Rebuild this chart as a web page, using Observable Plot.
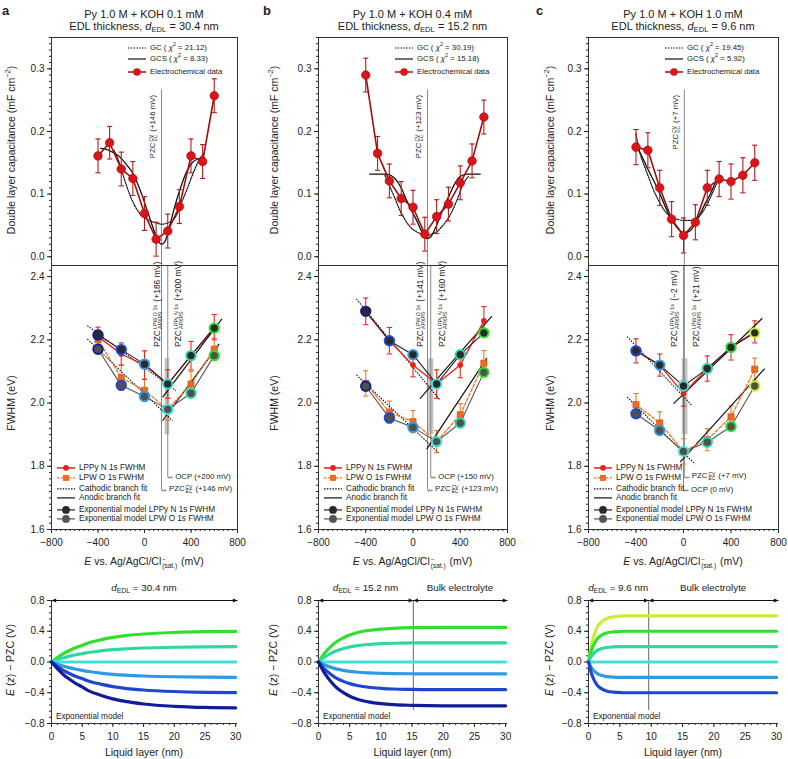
<!DOCTYPE html>
<html><head><meta charset="utf-8">
<script src="https://cdn.jsdelivr.net/npm/d3@7"></script>
<script src="https://cdn.jsdelivr.net/npm/@observablehq/plot@0.6"></script>
<style>
body{margin:0;background:#fff;}
#fig{position:relative;width:788px;height:759px;font-family:"Liberation Sans",Arial,Helvetica,sans-serif;color:#222;overflow:hidden;background:#fff;}
.lbl{position:absolute;white-space:nowrap;line-height:1;}
.ss{display:inline-flex;flex-direction:column;font-size:0.62em;line-height:0.95;vertical-align:0.5em;margin:0 1px;text-align:left;}
sub{font-size:0.7em;vertical-align:-0.3em;line-height:0;}
.leg{position:absolute;white-space:nowrap;line-height:1;display:flex;align-items:center;}
.leg svg{margin-right:4px;}
</style></head><body><div id="fig"></div><script>
// ---------------- DATA ----------------
const letters = ["a", "b", "c"];
const kohConc = ["0.1", "0.4", "1.0"];
const dEDL = [30.4, 15.2, 9.6];
const chiGC = ["21.12", "30.19", "19.45"];
const chiGCS = ["8.33", "15.18", "5.92"];
const pzcCV = [146, 123, 7];
const ocpV = [200, 150, 0];
const pzcO1s = [186, 141, 21];
const pzcN1s = [200, 160, -2];

// capacitance (mF cm-2) vs E (mV)
const capE = [-400, -300, -200, -100, 0, 100, 200, 300, 400, 500, 600];
const capA = [0.161, 0.182, 0.140, 0.125, 0.069, 0.028, 0.041, 0.080, 0.161, 0.152, 0.257];
const capB = [0.290, 0.165, 0.121, 0.093, 0.079, 0.036, 0.064, 0.084, 0.118, 0.153, 0.223];
const capC = [0.175, 0.170, 0.110, 0.060, 0.034, 0.055, 0.110, 0.124, 0.120, 0.130, 0.150];
const capErrA = [0.027, 0.026, 0.027, 0.027, 0.027, 0.027, 0.027, 0.027, 0.027, 0.027, 0.027];
const capErrB = [0.027, 0.027, 0.027, 0.027, 0.027, 0.027, 0.027, 0.027, 0.027, 0.027, 0.027];
const capErrC = [0.028, 0.028, 0.028, 0.028, 0.028, 0.028, 0.028, 0.028, 0.028, 0.028, 0.028];

// GC (dotted) and GCS (solid) fits
const gcA_E = [-262, -220, -175, -118, -45, 41, 100, 148, 200, 243, 280, 315, 360, 401, 445, 488, 516];
const gcA_C = [0.170, 0.152, 0.125, 0.095, 0.070, 0.058, 0.054, 0.052, 0.054, 0.058, 0.068, 0.085, 0.105, 0.125, 0.145, 0.160, 0.165];
const gcsA_E = [-377, -320, -276, -230, -190, -150, -103, -60, -17, 30, 70, 110, 148, 180, 215, 260, 310, 360, 410, 460, 516];
const gcsA_C = [0.173, 0.171, 0.167, 0.162, 0.155, 0.146, 0.134, 0.117, 0.096, 0.070, 0.048, 0.028, 0.020, 0.026, 0.048, 0.080, 0.110, 0.135, 0.150, 0.156, 0.158];
const gcB_E = [-238, -196, -150, -111, -70, -26, 20, 59, 116, 160, 201, 245, 286, 330, 371, 428, 470];
const gcB_C = [0.130, 0.112, 0.092, 0.074, 0.060, 0.048, 0.041, 0.037, 0.034, 0.036, 0.040, 0.048, 0.058, 0.072, 0.090, 0.117, 0.128];
const gcsB_E = [-366, -280, -224, -180, -139, -95, -54, -10, 31, 75, 116, 150, 190, 229, 270, 314, 355, 399, 456, 569];
const gcsB_C = [0.132, 0.132, 0.132, 0.129, 0.122, 0.108, 0.090, 0.073, 0.058, 0.040, 0.029, 0.032, 0.046, 0.064, 0.083, 0.101, 0.117, 0.128, 0.132, 0.132];
const gcC_E = [-400, -364, -330, -294, -260, -224, -182, -140, -98, -56, 0, 50, 87, 130, 170, 205, 240, 270, 296];
const gcC_C = [0.196, 0.164, 0.145, 0.127, 0.110, 0.095, 0.080, 0.069, 0.063, 0.060, 0.058, 0.058, 0.059, 0.064, 0.074, 0.086, 0.100, 0.113, 0.124];
const gcsC_E = [-400, -350, -308, -266, -224, -182, -140, -98, -56, -20, 0, 30, 59, 100, 142, 185, 226, 262, 296];
const gcsC_C = [0.178, 0.160, 0.143, 0.127, 0.111, 0.093, 0.074, 0.058, 0.047, 0.040, 0.038, 0.039, 0.042, 0.053, 0.069, 0.086, 0.100, 0.116, 0.130];

// FWHM (eV) vs E (mV)
const xpsE = [-400, -200, 0, 200, 400, 600];
const nA = [2.21, 2.155, 2.12, 2.06, 2.15, 2.24];
const nErrA = [0.03, 0.035, 0.045, 0.045, 0.045, 0.04];
const oA = [2.20, 2.08, 2.04, 1.98, 2.06, 2.17];
const oErrA = [0.03, 0.04, 0.035, 0.035, 0.04, 0.035];
const expNA = [2.215, 2.169, 2.123, 2.06, 2.15, 2.237];
const expOA = [2.17, 2.056, 2.021, 1.98, 2.031, 2.15];
const nB = [2.29, 2.197, 2.12, 2.06, 2.12, 2.26];
const nErrB = [0.042, 0.042, 0.037, 0.045, 0.04, 0.045];
const oB = [2.062, 1.971, 1.941, 1.878, 1.963, 2.126];
const oErrB = [0.04, 0.035, 0.035, 0.035, 0.035, 0.04];
const expNB = [2.29, 2.197, 2.153, 2.06, 2.153, 2.222];
const expOB = [2.053, 1.953, 1.923, 1.878, 1.937, 2.097];
const nC = [2.165, 2.12, 2.03, 2.109, 2.176, 2.225];
const nErrC = [0.038, 0.035, 0.04, 0.04, 0.04, 0.035];
const oC = [1.995, 1.937, 1.847, 1.884, 1.956, 2.107];
const oErrC = [0.035, 0.035, 0.04, 0.035, 0.035, 0.035];
const expNC = [2.165, 2.12, 2.054, 2.109, 2.176, 2.222];
const expOC = [1.966, 1.913, 1.847, 1.876, 1.926, 2.054];

// branch fits [[E1, FWHM1], [E2, FWHM2]]
const cathN = [[[-492, 2.245], [270, 2.039]], [[-479, 2.329], [229, 2.009]], [[-475, 2.21], [69, 1.993]]];
const cathO = [[[-492, 2.203], [241, 1.944]], [[-479, 2.089], [215, 1.843]], [[-475, 2.019], [97, 1.807]]];
const anodN = [[[155, 2.018], [666, 2.266]], [[59, 2.014], [668, 2.275]], [[-84, 1.998], [664, 2.268]]];
const anodO = [[[155, 1.944], [643, 2.187]], [[116, 1.854], [626, 2.142]], [[-29, 1.813], [684, 2.109]]];

// colours of the exponential-model potentials
const cNavy = "#101d97", cBlue = "#1f46d0", cLBlue = "#2e9ae6", cCyan = "#40e0d9", cAqua = "#2fd8a3", cGreen = "#2fe02f", cYG = "#c9ee32";
const outlineA = [cNavy, cBlue, cLBlue, cCyan, cAqua, cGreen];
const outlineB = [cNavy, cBlue, cLBlue, cCyan, cAqua, cGreen];
const outlineC = [cBlue, cLBlue, cCyan, cAqua, cGreen, cYG];

// E(z) - PZC (V) vs liquid layer (nm)
const zA = [0, 1, 2, 3, 4, 5, 6, 8, 10, 12, 15, 20, 25, 30];
const potA = [
  [0, 0.06, 0.112, 0.152, 0.188, 0.216, 0.248, 0.288, 0.32, 0.342, 0.364, 0.384, 0.394, 0.398],
  [0, 0.03, 0.056, 0.076, 0.094, 0.108, 0.124, 0.144, 0.16, 0.171, 0.182, 0.192, 0.197, 0.199],
  [0, 0, 0, 0, 0, 0, 0, 0, 0, 0, 0, 0, 0, 0],
  [0, -0.03, -0.056, -0.076, -0.094, -0.108, -0.124, -0.144, -0.16, -0.171, -0.182, -0.192, -0.197, -0.199],
  [0, -0.06, -0.112, -0.152, -0.188, -0.216, -0.248, -0.288, -0.32, -0.342, -0.364, -0.384, -0.394, -0.398],
  [0, -0.09, -0.168, -0.228, -0.282, -0.324, -0.372, -0.432, -0.48, -0.513, -0.546, -0.576, -0.591, -0.597]
];
const potColorsA = [cGreen, cAqua, cCyan, cLBlue, cBlue, cNavy];
const zB = [0, 1, 2, 3, 4, 5, 6, 8, 10, 12, 15, 20, 25, 30];
const potB = [
  [0, 0.117, 0.203, 0.27, 0.315, 0.351, 0.378, 0.41, 0.428, 0.438, 0.446, 0.45, 0.45, 0.45],
  [0, 0.065, 0.113, 0.15, 0.175, 0.195, 0.21, 0.228, 0.238, 0.244, 0.248, 0.25, 0.25, 0.25],
  [0, 0, 0, 0, 0, 0, 0, 0, 0, 0, 0, 0, 0, 0],
  [0, -0.04, -0.07, -0.093, -0.109, -0.121, -0.13, -0.141, -0.147, -0.151, -0.153, -0.155, -0.155, -0.155],
  [0, -0.094, -0.162, -0.216, -0.252, -0.281, -0.302, -0.328, -0.342, -0.351, -0.356, -0.36, -0.36, -0.36],
  [0, -0.148, -0.257, -0.342, -0.399, -0.445, -0.479, -0.519, -0.542, -0.555, -0.564, -0.57, -0.57, -0.57]
];
const potColorsB = [cGreen, cAqua, cCyan, cLBlue, cBlue, cNavy];
const zC = [0, 0.5, 1, 1.5, 2, 3, 4, 5, 6, 8, 10, 15, 20, 30];
const potC = [
  [0, 0.234, 0.378, 0.468, 0.516, 0.57, 0.588, 0.596, 0.6, 0.6, 0.6, 0.6, 0.6, 0.6],
  [0, 0.156, 0.252, 0.312, 0.344, 0.38, 0.392, 0.397, 0.4, 0.4, 0.4, 0.4, 0.4, 0.4],
  [0, 0.078, 0.126, 0.156, 0.172, 0.19, 0.196, 0.199, 0.2, 0.2, 0.2, 0.2, 0.2, 0.2],
  [0, 0, 0, 0, 0, 0, 0, 0, 0, 0, 0, 0, 0, 0],
  [0, -0.078, -0.126, -0.156, -0.172, -0.19, -0.196, -0.199, -0.2, -0.2, -0.2, -0.2, -0.2, -0.2],
  [0, -0.156, -0.252, -0.312, -0.344, -0.38, -0.392, -0.397, -0.4, -0.4, -0.4, -0.4, -0.4, -0.4]
];
const potColorsC = [cYG, cGreen, cAqua, cCyan, cLBlue, cBlue];

const capTicks = [0, 0.1, 0.2, 0.3];
const fwhmTicks = [1.6, 1.8, 2.0, 2.2, 2.4];
const eTicks = [-800, -400, 0, 400, 800];
const potTicks = [-0.8, -0.4, 0, 0.4, 0.8];
const zTicks = [0, 5, 10, 15, 20, 25, 30];

// ---------------- LAYOUT HELPERS ----------------
const fig = document.getElementById("fig");
const FONT = '"Liberation Sans", Arial, Helvetica, sans-serif';
const L = [51, 318, 588];
const W = [186, 189, 190];
const ML = 50;
const STYLE = {fontFamily: FONT, fontSize: "10px", background: "transparent", color: "#222", overflow: "visible"};
const fmtTick = d => (d < 0 ? "\u2212" : "") + Math.abs(d).toFixed(1);
const fmtInt = d => (d < 0 ? "\u2212" : "") + Math.abs(d);
const fmtMV = v => "(" + (v > 0 ? "+" : v < 0 ? "\u2212" : "") + Math.abs(v) + " mV)";
const ss = (a, b) => `<span class="ss"><span>${a}</span><span>${b}</span></span>`;
const capSym = {draw(ctx, size) { const r = Math.sqrt(size / Math.PI); ctx.moveTo(-r, 0); ctx.lineTo(r, 0); }};
const brkSym = {draw(ctx, size) { const r = Math.sqrt(size / Math.PI); ctx.moveTo(0, 0); ctx.lineTo(r, 0); }};
// filled arrowhead with its tip at the anchor point, pointing right
const headSym = {draw(ctx, size) { const r = Math.sqrt(size / Math.PI); ctx.moveTo(0, 0); ctx.lineTo(-1.8 * r, -0.75 * r); ctx.lineTo(-1.8 * r, 0.75 * r); ctx.closePath(); }};

function put(el, left, top) {
  el.style.position = "absolute"; el.style.left = left + "px"; el.style.top = top + "px";
  fig.appendChild(el); return el;
}
function text(html, x, y, o = {}) {
  const d = document.createElement("div");
  d.className = "lbl"; d.innerHTML = html;
  d.style.fontSize = (o.size ?? 10) + "px";
  if (o.bold) d.style.fontWeight = "bold";
  if (o.color) d.style.color = o.color;
  d.style.left = x + "px"; d.style.top = y + "px";
  const a = o.anchor ?? "middle";
  const tx = a === "start" ? "0" : a === "end" ? "-100%" : "-50%";
  if (o.rotate) { d.style.transformOrigin = "0 0"; d.style.transform = `rotate(-90deg) translate(${tx},-50%)`; }
  else d.style.transform = `translate(${tx},-50%)`;
  fig.appendChild(d); return d;
}
function sw(kind) {
  const parts = {
    dotted: `<line x1="0" y1="4" x2="18" y2="4" stroke="#111" stroke-width="1.2" stroke-dasharray="1.5,1.3"/>`,
    solid: `<line x1="0" y1="4" x2="18" y2="4" stroke="#111" stroke-width="1.2"/>`,
    ec: `<line x1="0" y1="4" x2="18" y2="4" stroke="#a00f0f" stroke-width="1.5"/><circle cx="9" cy="4" r="3.8" fill="#d8151a"/>`,
    n: `<line x1="0" y1="4" x2="18" y2="4" stroke="#e8201a" stroke-width="1.5"/><circle cx="9" cy="4" r="2.8" fill="#e8201a"/>`,
    o: `<line x1="0" y1="4" x2="18" y2="4" stroke="#f27324" stroke-width="1.3" stroke-dasharray="2.5,1.5"/><rect x="6" y="1" width="6" height="6" fill="#f26a1e"/>`,
    en: `<line x1="0" y1="4" x2="18" y2="4" stroke="#222" stroke-width="1.2"/><circle cx="9" cy="4" r="3.9" fill="#2a2a2a"/>`,
    eo: `<line x1="0" y1="4" x2="18" y2="4" stroke="#555" stroke-width="1.2"/><circle cx="9" cy="4" r="3.9" fill="#555"/>`
  };
  return `<svg width="18" height="8" viewBox="0 0 18 8">${parts[kind]}</svg>`;
}
function legend(kind, html, x, y, size) {
  const d = document.createElement("div");
  d.className = "leg"; d.innerHTML = sw(kind) + `<span>${html}</span>`;
  d.style.fontSize = size + "px"; d.style.left = x + "px"; d.style.top = y + "px";
  d.style.transform = "translate(0,-50%)";
  fig.appendChild(d);
}

// ---------------- PANELS ----------------
function topPanel(i, cap, err, gcE, gcC, gcsE, gcsC) {
  const rows = capE.map((e, k) => ({e, c: cap[k], lo: cap[k] - err[k], hi: cap[k] + err[k]}));
  const gc = gcE.map((e, k) => ({e, c: gcC[k]}));
  const gcs = gcsE.map((e, k) => ({e, c: gcsC[k]}));
  const red = "#b51a1a";
  const p = Plot.plot({
    width: ML + W[i] + 10, height: 235, marginLeft: ML, marginRight: 10, marginTop: 7, marginBottom: 0,
    x: {domain: [-800, 800], axis: null},
    y: {domain: [-0.014, 0.35]},
    style: STYLE,
    marks: [
      Plot.axisY({ticks: capTicks, tickFormat: fmtTick, tickSize: 4, tickPadding: 3, label: null}),
      Plot.axisY({ticks: d3.range(0, 0.351, 0.01), tickSize: 2, tickFormat: () => "", label: null}),
      Plot.ruleX([pzcCV[i]], {y1: 0.266, y2: -0.014, stroke: "#8a8a8a"}),
      Plot.line(gc, {x: "e", y: "c", stroke: "#111", strokeWidth: 1.2, strokeDasharray: "1.5,1.3", curve: "monotone-x"}),
      Plot.line(gcs, {x: "e", y: "c", stroke: "#111", strokeWidth: 1.3, curve: "monotone-x"}),
      Plot.ruleX(rows, {x: "e", y1: "lo", y2: "hi", stroke: red, strokeWidth: 1.1}),
      Plot.dot(rows, {x: "e", y: "lo", symbol: capSym, r: 2.6, stroke: red, fill: "none", strokeWidth: 1.1}),
      Plot.dot(rows, {x: "e", y: "hi", symbol: capSym, r: 2.6, stroke: red, fill: "none", strokeWidth: 1.1}),
      Plot.line(rows, {x: "e", y: "c", stroke: "#a00f0f", strokeWidth: 1.6}),
      Plot.dot(rows, {x: "e", y: "c", r: 4.3, fill: "#d8151a", stroke: "#a00", strokeWidth: 0.6}),
      Plot.frame({stroke: "#333"})
    ]
  });
  put(p, L[i] - ML, 30);
  const xs = v => L[i] - ML + p.scale("x").apply(v);
  text(`PZC${ss("CV", "EC")} ${fmtMV(pzcCV[i])}`, xs(pzcCV[i]) - 7, 95, {size: 7.8, rotate: true, anchor: "end"});
  legend("dotted", `GC ( <i>χ</i><sup style="font-size:0.7em;line-height:0">2</sup> = ${chiGC[i]})`, L[i] + 77, 48, 7.8);
  legend("solid", `GCS ( <i>χ</i><sup style="font-size:0.7em;line-height:0">2</sup> = ${chiGCS[i]})`, L[i] + 77, 59, 7.8);
  legend("ec", "Electrochemical data", L[i] + 77, 72, 7.8);
}

function midPanel(i, n, nErr, o, oErr, expN, expO, outline, bracketOrder) {
  const rows = xpsE.map((e, k) => ({e, n: n[k], nlo: n[k] - nErr[k], nhi: n[k] + nErr[k], o: o[k], olo: o[k] - oErr[k], ohi: o[k] + oErr[k], en: expN[k], eo: expO[k], col: outline[k]}));
  const seg = s => ({x1: s[0][0], y1: s[0][1], x2: s[1][0], y2: s[1][1]});
  const cath = [seg(cathN[i]), seg(cathO[i])];
  const anod = [seg(anodN[i]), seg(anodO[i])];
  const brY = [1.7645, 1.7233];
  const brk = bracketOrder.map((b, k) => ({x: b === "ocp" ? ocpV[i] : pzcCV[i], y: brY[k], kind: b}));
  const orange = "#f07a2a", red = "#e8281e";
  const p = Plot.plot({
    width: ML + W[i] + 10, height: 288, marginLeft: ML, marginRight: 10, marginTop: 0, marginBottom: 24,
    x: {domain: [-800, 800]},
    y: {domain: [1.6, 2.435]},
    color: {type: "identity"},
    style: STYLE,
    marks: [
      Plot.axisY({ticks: fwhmTicks, tickFormat: fmtTick, tickSize: 4, tickPadding: 3, label: null}),
      Plot.axisY({ticks: d3.range(1.6, 2.431, 0.02), tickSize: 2, tickFormat: () => "", label: null}),
      Plot.axisX({ticks: eTicks, tickFormat: fmtInt, tickSize: 4, tickPadding: 5, label: null}),
      Plot.axisX({ticks: d3.range(-800, 801, 40), tickSize: 2, tickFormat: () => "", label: null}),
      Plot.ruleX([pzcO1s[i], pzcN1s[i]], {y1: 2.14, y2: 1.9, stroke: "#c4c4c4", strokeWidth: 3}),
      Plot.ruleX(brk, {x: "x", y1: 2.435, y2: "y", stroke: "#8a8a8a"}),
      Plot.dot(brk, {x: "x", y: "y", symbol: brkSym, r: 5, stroke: "#8a8a8a", fill: "none"}),
      Plot.ruleX(rows, {x: "e", y1: "olo", y2: "ohi", stroke: orange, strokeWidth: 1.1}),
      Plot.dot(rows, {x: "e", y: "olo", symbol: capSym, r: 2.6, stroke: orange, fill: "none", strokeWidth: 1.1}),
      Plot.dot(rows, {x: "e", y: "ohi", symbol: capSym, r: 2.6, stroke: orange, fill: "none", strokeWidth: 1.1}),
      Plot.ruleX(rows, {x: "e", y1: "nlo", y2: "nhi", stroke: red, strokeWidth: 1.1}),
      Plot.dot(rows, {x: "e", y: "nlo", symbol: capSym, r: 2.6, stroke: red, fill: "none", strokeWidth: 1.1}),
      Plot.dot(rows, {x: "e", y: "nhi", symbol: capSym, r: 2.6, stroke: red, fill: "none", strokeWidth: 1.1}),
      Plot.link(cath, {x1: "x1", y1: "y1", x2: "x2", y2: "y2", stroke: "#111", strokeWidth: 1.1, strokeDasharray: "1.5,1.3"}),
      Plot.link(anod, {x1: "x1", y1: "y1", x2: "x2", y2: "y2", stroke: "#111", strokeWidth: 1.2}),
      Plot.line(rows, {x: "e", y: "o", stroke: "#f27324", strokeWidth: 1.3, strokeDasharray: "3,2"}),
      Plot.line(rows, {x: "e", y: "n", stroke: "#e8201a", strokeWidth: 1.3}),
      Plot.line(rows, {x: "e", y: "eo", stroke: "#555", strokeWidth: 1.1}),
      Plot.line(rows, {x: "e", y: "en", stroke: "#222", strokeWidth: 1.1}),
      Plot.dot(rows, {x: "e", y: "o", symbol: "square", r: 3.5, fill: "#f26a1e", stroke: "#b84a10", strokeWidth: 0.6}),
      Plot.dot(rows, {x: "e", y: "n", r: 2.8, fill: "#e8201a"}),
      Plot.dot(rows, {x: "e", y: "eo", r: 4.7, fill: "#505050", stroke: "col", strokeWidth: 2}),
      Plot.dot(rows, {x: "e", y: "en", r: 4.7, fill: "#2a2a2a", stroke: "col", strokeWidth: 2}),
      Plot.frame({stroke: "#333"})
    ]
  });
  put(p, L[i] - ML, 265);
  const xs = v => L[i] - ML + p.scale("x").apply(v);
  const ys = v => 265 + p.scale("y").apply(v);
  const lo = pzcO1s[i] <= pzcN1s[i] ? {v: pzcO1s[i], name: "LPW O 1s"} : {v: pzcN1s[i], name: "LPPy N 1s"};
  const hi = pzcO1s[i] <= pzcN1s[i] ? {v: pzcN1s[i], name: "LPPy N 1s"} : {v: pzcO1s[i], name: "LPW O 1s"};
  text(`PZC${ss(lo.name, "APXPS")} ${fmtMV(lo.v)}`, xs(lo.v) - 8, 347, {size: 8.5, rotate: true, anchor: "start"});
  text(`PZC${ss(hi.name, "APXPS")} ${fmtMV(hi.v)}`, xs(hi.v) + 12, 347, {size: 8.5, rotate: true, anchor: "start"});
  for (const b of brk) {
    const html = b.kind === "ocp" ? `OCP ${fmtMV(ocpV[i])}` : `PZC${ss("CV", "EC")} ${fmtMV(pzcCV[i])}`;
    text(html, xs(b.x) + 8, ys(b.y), {size: 7.8, anchor: "start"});
  }
  legend("n", "LPPy N 1s FWHM", L[i] + 6, 468, 8.2);
  legend("o", "LPW O 1s FWHM", L[i] + 6, 478, 8.2);
  legend("dotted", "Cathodic branch fit", L[i] + 6, 488.5, 8.2);
  legend("solid", "Anodic branch fit", L[i] + 6, 498, 8.2);
  legend("en", "Exponential model LPPy N 1s FWHM", L[i] + 6, 509.5, 8.2);
  legend("eo", "Exponential model LPW O 1s FWHM", L[i] + 6, 519, 8.2);
  text(`<i>E</i> vs. Ag/AgCl/Cl${ss("\u2212", "(sat.)")} (mV)`, L[i] + W[i] / 2, 563, {size: 10.5});
}

function botPanel(i, z, pots, colors) {
  const data = pots.flatMap((vals, k) => vals.map((v, j) => ({z: z[j], v, k, col: colors[k]})));
  const zMax = 30.3;
  const segs = [{a: 0, b: Math.min(dEDL[i], zMax)}];
  if (dEDL[i] < zMax) segs.push({a: dEDL[i], b: zMax});
  const heads = segs.flatMap(s => [{x: s.a, rot: 180}, {x: s.b, rot: 0}]);
  const p = Plot.plot({
    width: ML + W[i] + 10, height: 155, marginLeft: ML, marginRight: 10, marginTop: 8, marginBottom: 24,
    x: {domain: [0, zMax]},
    y: {domain: [-0.8, 0.8]},
    color: {type: "identity"},
    style: STYLE,
    marks: [
      Plot.axisY({ticks: potTicks, tickFormat: fmtTick, tickSize: 4, tickPadding: 3, label: null}),
      Plot.axisY({ticks: d3.range(-0.8, 0.801, 0.08), tickSize: 2, tickFormat: () => "", label: null}),
      Plot.axisX({ticks: zTicks, tickSize: 4, tickPadding: 5, label: null}),
      Plot.axisX({ticks: d3.range(0, 30.01, 1), tickSize: 2, tickFormat: () => "", label: null}),
      Plot.ruleX([0], {stroke: "#333"}),
      Plot.ruleY([-0.8], {stroke: "#333"}),
      dEDL[i] < zMax ? Plot.ruleX([dEDL[i]], {y1: 0.8, y2: -0.63, stroke: "#666"}) : null,
      Plot.line(data, {x: "z", y: "v", z: "k", stroke: "col", strokeWidth: 3.2, curve: "monotone-x"}),
      Plot.link(segs, {x1: "a", x2: "b", y1: 0.8, y2: 0.8, stroke: "#111", strokeWidth: 1.1}),
      Plot.dot(heads, {x: "x", y: 0.8, rotate: "rot", symbol: headSym, r: 2.6, fill: "#111", stroke: "none"})
    ]
  });
  put(p, L[i] - ML, 592);
  const xs = v => L[i] - ML + p.scale("x").apply(v);
  text(`<i>d</i><sub>EDL</sub> = ${dEDL[i]} nm`, (xs(segs[0].a) + xs(segs[0].b)) / 2, 588, {size: 9.8});
  if (segs.length > 1) text("Bulk electrolyte", (xs(segs[1].a) + xs(segs[1].b)) / 2, 588, {size: 9.8});
  text("Exponential model", L[i] + 5, 717, {size: 8.2, anchor: "start"});
  text("Liquid layer (nm)", L[i] + W[i] / 2, 752, {size: 10.5});
}

// ---------------- BUILD ----------------
const caps = [[capA, capErrA, gcA_E, gcA_C, gcsA_E, gcsA_C], [capB, capErrB, gcB_E, gcB_C, gcsB_E, gcsB_C], [capC, capErrC, gcC_E, gcC_C, gcsC_E, gcsC_C]];
const fw = [[nA, nErrA, oA, oErrA, expNA, expOA, outlineA], [nB, nErrB, oB, oErrB, expNB, expOB, outlineB], [nC, nErrC, oC, oErrC, expNC, expOC, outlineC]];
const bots = [[zA, potA, potColorsA], [zB, potB, potColorsB], [zC, potC, potColorsC]];
const brOrder = [["ocp", "pzc"], ["ocp", "pzc"], ["pzc", "ocp"]];
const letterX = [2, 263, 536];
const ylabX = [11, 274, 550];

for (let i = 0; i < 3; i++) {
  topPanel(i, ...caps[i]);
  midPanel(i, ...fw[i], brOrder[i]);
  botPanel(i, ...bots[i]);
  text(letters[i], letterX[i], 10, {size: 13, bold: true, anchor: "start"});
  text(`Py 1.0 M + KOH ${kohConc[i]} mM`, L[i] + W[i] / 2, 14, {size: 11});
  text(`EDL thickness, <i>d</i><sub>EDL</sub> = ${dEDL[i]} nm`, L[i] + W[i] / 2, 26, {size: 11});
  text("Double layer capacitance (mF cm<sup style=\"font-size:0.7em;line-height:0\">\u22122</sup>)", ylabX[i], 150, {size: 10.5, rotate: true});
  text("FWHM (eV)", ylabX[i], 403, {size: 10.5, rotate: true});
  text("<i>E</i> (<i>z</i>) \u2212 PZC (V)", ylabX[i] - 1, 660, {size: 10.5, rotate: true});
}
</script></body></html>
